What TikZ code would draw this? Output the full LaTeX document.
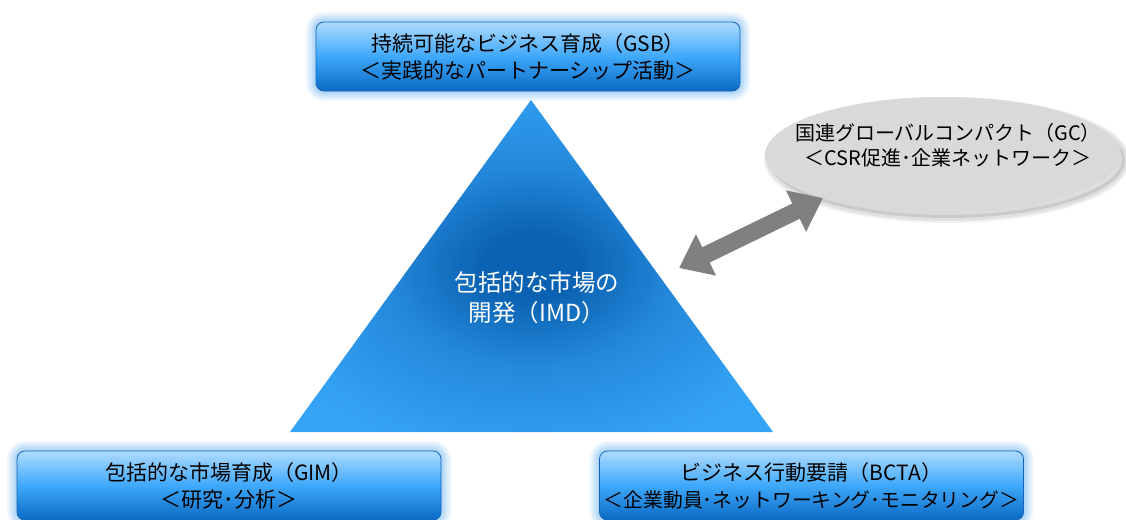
\documentclass[tikz,border=0pt]{standalone}
\usepackage{fontspec}
\setmainfont{Noto Sans CJK JP}
\usetikzlibrary{arrows.meta,shapes.geometric}
\definecolor{boxtop}{HTML}{AEDBFF}
\definecolor{boxmid}{HTML}{3EA8FA}
\definecolor{boxbot}{HTML}{0A6AC4}
\definecolor{boxline}{HTML}{1565B4}
\definecolor{glow}{HTML}{7FBDF2}
\definecolor{tricenter}{HTML}{0B62B2}
\definecolor{trimid}{HTML}{38A8FC}
\definecolor{triout}{HTML}{A6D5FB}
\definecolor{ellfill}{HTML}{D9D9D9}
\definecolor{arrowgray}{HTML}{808080}
\pgfdeclareradialshading{trishade}{\pgfpoint{0bp}{0bp}}{color(0bp)=(tricenter); color(5bp)=(tricenter); color(15bp)=(tricenter!45!trimid); color(28bp)=(tricenter!10!trimid); color(44bp)=(trimid); color(58bp)=(trimid!55!triout); color(71bp)=(triout)}
\tikzset{
  glowbox/.style={rounded corners=8pt, draw=boxline, line width=0.8pt,
    top color=boxtop, bottom color=boxbot, middle color=boxmid,
    minimum width=424pt, minimum height=69pt, inner sep=0pt, align=center,
    font=\fontsize{21}{27}\selectfont,
    preaction={draw=glow, line width=20pt, opacity=0.12, line join=round},
    preaction={draw=glow, line width=16pt, opacity=0.14, line join=round},
    preaction={draw=glow, line width=12pt, opacity=0.16, line join=round},
    preaction={draw=glow, line width=8pt, opacity=0.2, line join=round},
    preaction={draw=glow, line width=4pt, opacity=0.25, line join=round}},
  gcell/.style={ellipse, fill=ellfill, minimum width=356pt, minimum height=116pt, inner sep=0pt,
    preaction={fill=black, opacity=0.10, transform canvas={xshift=4pt,yshift=-5pt}},
    preaction={draw=black, line width=6pt, opacity=0.07, transform canvas={xshift=4pt,yshift=-5pt}},
    preaction={draw=black, line width=10pt, opacity=0.05, transform canvas={xshift=4pt,yshift=-5pt}}},
  gctext/.style={align=center, font=\fontsize{20}{25}\selectfont, inner sep=0pt},
  imdtext/.style={align=center, text=white, font=\fontsize{23.5}{30}\selectfont, inner sep=0pt},
  linkarrow/.style={arrowgray, line width=17pt,
    {Triangle[length=30pt,width=44pt]}-{Triangle[length=30pt,width=44pt]}}
}
\begin{document}
\begin{tikzpicture}[x=1pt,y=-1pt]
\useasboundingbox (0,0) rectangle (1126,519);
% triangle
\coordinate (apex) at (531,100);
\coordinate (bl) at (290,432);
\coordinate (br) at (773,432);
\shade[shading=trishade] (apex) -- (br) -- (bl) -- cycle;
\node[imdtext] (imd) at (537,298) {包括的な市場の\\開発（IMD）};
% boxes
\node[glowbox] (gsb) at (528,56.5) {持続可能なビジネス育成（GSB）\\＜実践的なパートナーシップ活動＞};
\node[glowbox] (gim) at (229,485.5) {包括的な市場育成（GIM）\\＜研究･分析＞};
\node[glowbox] (bcta) at (811.5,485.5) {ビジネス行動要請（BCTA）\\{\fontsize{19.8}{27}\selectfont ＜企業動員･ネットワーキング･モニタリング＞}};
% ellipse
\node[gcell] (gc) at (943,155) {};
\node[gctext] (gct) at (948,145) {国連グローバルコンパクト（GC）\\＜CSR促進･企業ネットワーク＞};
% arrow
\coordinate (imdside) at (679,268);
\coordinate (gcside) at (823,198);
\draw[linkarrow] (imdside) -- (gcside);
\end{tikzpicture}
\end{document}
